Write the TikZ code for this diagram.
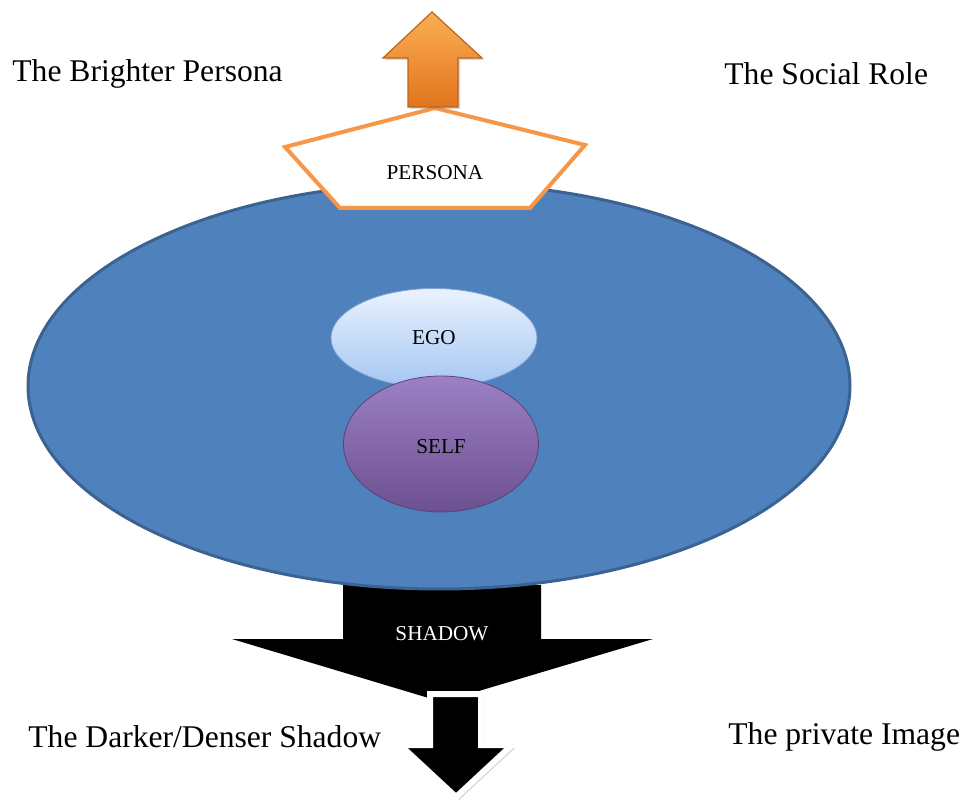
\documentclass[tikz,border=0pt]{standalone}
\usepackage{fontspec}
\setmainfont{Liberation Serif}
\usetikzlibrary{shapes.geometric}
\usetikzlibrary{shadows}

\definecolor{psyblue}{HTML}{4F81BD}
\definecolor{psyblueline}{HTML}{3B6290}
\definecolor{egotop}{HTML}{EAF2FF}
\definecolor{egobottom}{HTML}{A4C6F2}
\definecolor{egoline}{HTML}{7FA3D6}
\definecolor{selftop}{HTML}{9C80C4}
\definecolor{selfbottom}{HTML}{6C5090}
\definecolor{selfline}{HTML}{5A4378}
\definecolor{persorange}{HTML}{F79646}
\definecolor{arrowtop}{HTML}{FBAE55}
\definecolor{arrowbottom}{HTML}{E2741C}
\definecolor{arrowline}{HTML}{B9651F}

\tikzset{
  caption/.style={font=\fontsize{15.8}{19}\selectfont, inner sep=0pt},
  smalltext/.style={font=\fontsize{10.6}{13}\selectfont, inner sep=0pt},
  blob/.style={ellipse, inner sep=0pt}
}

\begin{document}
\begin{tikzpicture}[x=0.5pt,y=-0.5pt]
\useasboundingbox (0,0) rectangle (965,802);

% shadow arrow, below the big one
\fill[black] (343,585) -- (541,585) -- (541,639) -- (653,639) -- (442,702)
  -- (232,639) -- (343,639) -- cycle;

% big one
\node[blob, fill=psyblue, draw=psyblueline, line width=1.5pt,
  minimum width=411pt, minimum height=203pt] (psyche) at (439,386) {};

\node[smalltext, text=white] (shadow) at (442,634) {SHADOW};

% ego and self
\node[blob, top color=egotop, bottom color=egobottom, draw=egoline, line width=0.4pt,
  minimum width=103pt, minimum height=49.5pt] (ego) at (434,338) {};
\node[smalltext] (egotext) at (434,338) {EGO};

\node[blob, top color=selftop, bottom color=selfbottom, draw=selfline, line width=0.4pt,
  minimum width=97.5pt, minimum height=68pt] (self) at (441,444) {};
\node[smalltext] (selftext) at (441,447) {SELF};

% persona
\draw[persorange, line width=2pt, fill=white] (435,108) -- (585,145) -- (530,208)
  -- (340,208) -- (285,147) -- cycle;
\node[smalltext] (persona) at (435,173) {PERSONA};

% up arrow
\draw[arrowline, line width=0.6pt, top color=arrowtop, bottom color=arrowbottom,
  drop shadow={opacity=0.3, shadow xshift=1pt, shadow yshift=-1pt}]
  (432,12) -- (482,58) -- (458,58) -- (458,107) -- (408,107) -- (408,58)
  -- (383,58) -- cycle;

% small down arrow
\draw[white, line width=3pt, fill=black,
  drop shadow={opacity=0.35, shadow xshift=1.5pt, shadow yshift=-1.5pt}]
  (430,694) -- (481,694) -- (481,745) -- (512,745) -- (456,797) -- (400,745)
  -- (430,745) -- cycle;

% captions
\node[caption, anchor=west] (brighter) at (12,74) {The Brighter Persona};
\node[caption, anchor=west] (social) at (724,74) {The Social Role};
\node[caption, anchor=west] (darker) at (28,737) {The Darker/Denser Shadow};
\node[caption, anchor=west] (private) at (728,737) {The private Image};

\end{tikzpicture}
\end{document}
